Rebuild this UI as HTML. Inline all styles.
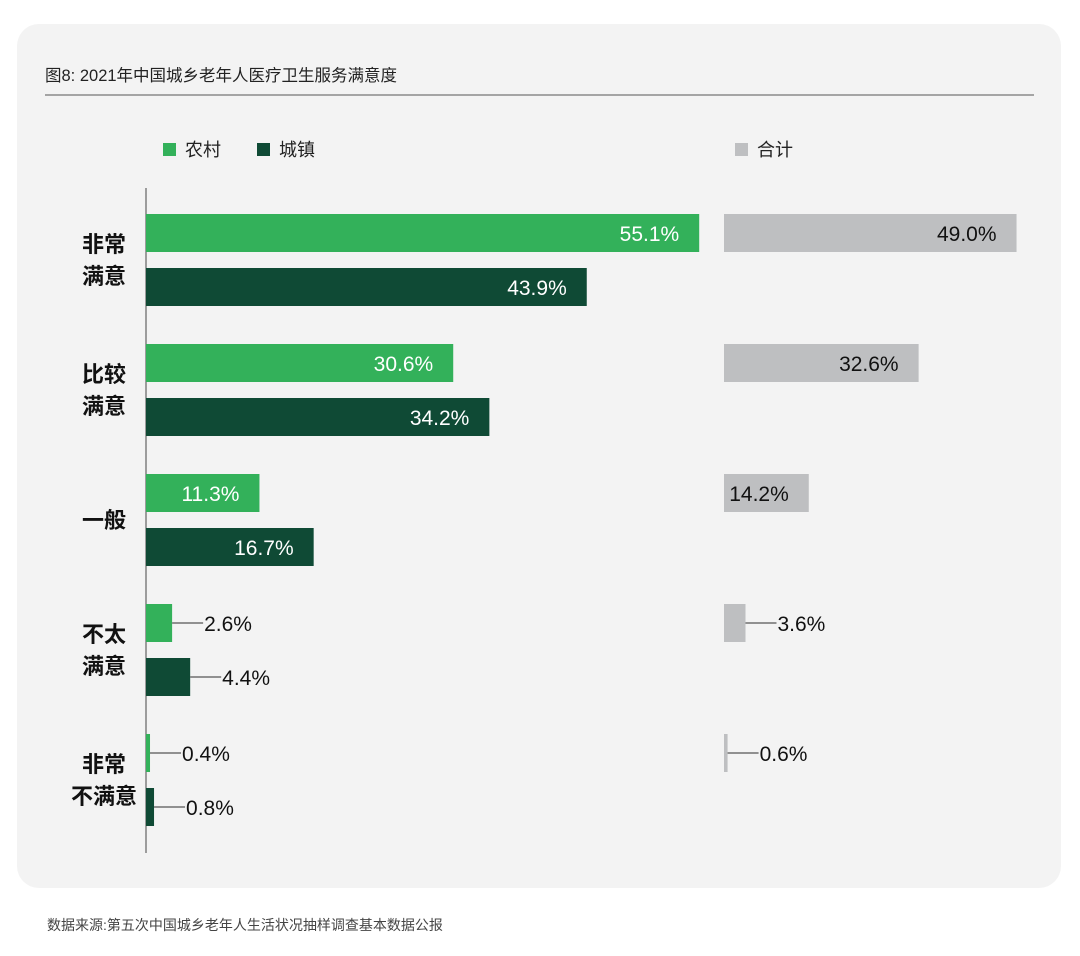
<!DOCTYPE html>
<html><head><meta charset="utf-8"><style>
body{margin:0;background:#fff;width:1080px;height:956px;overflow:hidden;font-family:"Liberation Sans","Noto Sans CJK SC",sans-serif}
</style></head><body>
<svg width="1080" height="956" style="display:block">
<rect x="17" y="24" width="1044" height="864" rx="22" fill="#f3f3f3"/>
<text x="45" y="81" font-size="16.5" fill="#222" font-family="Liberation Sans, Noto Sans CJK SC, sans-serif">图8: 2021年中国城乡老年人医疗卫生服务满意度</text>
<line x1="45" y1="95" x2="1034" y2="95" stroke="#555" stroke-width="1"/>
<g font-size="18" fill="#222">
<rect x="163" y="143" width="13" height="13" fill="#33b15a"/>
<text x="185" y="156">农村</text>
<rect x="257" y="143" width="13" height="13" fill="#0f4a35"/>
<text x="279" y="156">城镇</text>
<rect x="735" y="143" width="13" height="13" fill="#bebfc1"/>
<text x="757" y="156">合计</text>
</g>
<line x1="146" y1="188" x2="146" y2="853" stroke="#444" stroke-width="1"/>
<g id="marks"></g>
<text x="47" y="930" font-size="14" fill="#444">数据来源:第五次中国城乡老年人生活状况抽样调查基本数据公报</text>
</svg>
<script>
const categories=[["非常","满意"],["比较","满意"],["一般"],["不太","满意"],["非常","不满意"]];
const rural=[55.1,30.6,11.3,2.6,0.4];
const urban=[43.9,34.2,16.7,4.4,0.8];
const total=[49.0,32.6,14.2,3.6,0.6];
const NS="http://www.w3.org/2000/svg";
const g=document.getElementById('marks');
const xL=v=>v*10.04, xT=v=>v*5.97;
const rowY=i=>214+i*130;
function mk(t,a){const e=document.createElementNS(NS,t);for(const k in a)e.setAttribute(k,a[k]);g.appendChild(e);return e;}
function bar(x0,y,w,col,val,name,inside){
 const r=mk('rect',{x:x0,y:y,width:Math.max(w,2.5),height:38,fill:col});
 
 
 const label=val.toFixed(1)+'%';
 let t;
 if(inside){t=mk('text',{x:x0+w-20,y:y+27,'font-size':21,fill:col==='#bebfc1'?'#111':'#fff','text-anchor':'end'});}
 else{
  const wx=Math.max(w,2.5);
  const l=mk('line',{x1:x0+wx,y1:y+19,x2:x0+wx+31,y2:y+19,stroke:'#555','stroke-width':1.2});
  
  
  t=mk('text',{x:x0+wx+32,y:y+27,'font-size':21,fill:'#111'});}
 t.textContent=label;
 
 
}
categories.forEach((c,i)=>{
 const y=rowY(i);
 bar(146,y,xL(rural[i]),'#33b15a',rural[i],'rural-'+i,rural[i]>8);
 bar(146,y+54,xL(urban[i]),'#0f4a35',urban[i],'urban-'+i,urban[i]>8);
 bar(724,y,xT(total[i]),'#bebfc1',total[i],'total-'+i,total[i]>8);
 const mid=y+46, n=c.length;
 c.forEach((s,j)=>{
  const t=mk('text',{x:104,y:mid+(j-(n-1)/2)*32+8,'font-size':22,'font-weight':'bold',fill:'#111','text-anchor':'middle'});
  t.textContent=s;
  
  
 });
});
</script>
</body></html>
